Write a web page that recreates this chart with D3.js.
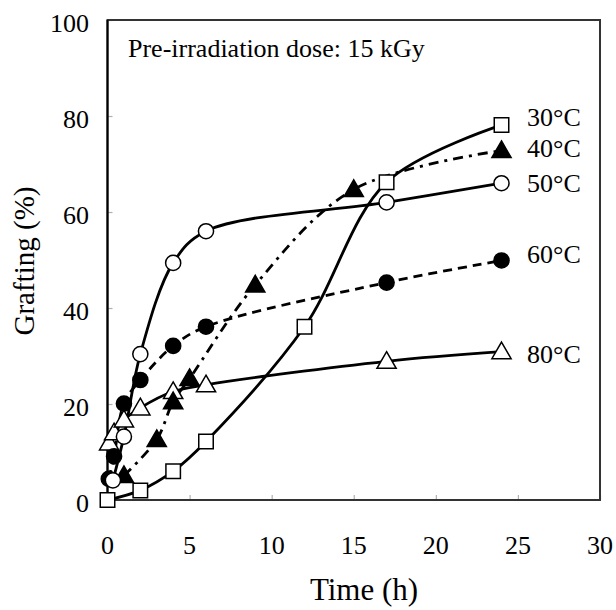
<!DOCTYPE html>
<html>
<head>
<meta charset="utf-8">
<script src="https://cdn.jsdelivr.net/npm/d3@7"></script>
<style>
  html, body { margin: 0; padding: 0; background: #fff; }
  text { font-family: "Liberation Serif", "Times New Roman", serif; fill: #000; }
</style>
</head>
<body>
<div id="chart"></div>
<script>
// ---- data ----
const xTicks = [0, 5, 10, 15, 20, 25, 30];
const yTicks = [0, 20, 40, 60, 80, 100];

const t30 = [0, 2, 4, 6, 12, 17, 24];
const g30 = [0, 2, 6, 12.2, 36.1, 66.2, 78.1];

const t40 = [1, 3, 4, 5, 9, 15, 24];
const g40 = [5.1, 12.6, 20.5, 25.3, 44.8, 64.7, 72.8];

const t50 = [0.33, 1, 2, 4, 6, 17, 24];
const g50 = [4.1, 13.2, 30.4, 49.4, 56, 62, 66];

const t60 = [0.08, 0.4, 1, 2, 4, 6, 17, 24];
const g60 = [4.4, 9.1, 20.1, 25, 32.1, 36.1, 45.3, 49.9];

const t80 = [0.1, 0.4, 1, 2, 4, 6, 17, 24];
const g80 = [11.9, 14, 16.7, 19.2, 22.6, 24, 28.9, 30.9];

const seriesNames = ["30\u00B0C", "40\u00B0C", "50\u00B0C", "60\u00B0C", "80\u00B0C"];
const annotation = "Pre-irradiation dose: 15 kGy";
const xTitle = "Time (h)";
const yTitle = "Grafting (%)";

// ---- build ----
const W = 616, H = 610;
const svg = d3.select("#chart").append("svg")
  .attr("width", W).attr("height", H)
  .style("background", "#fff");

const x = d3.scaleLinear().domain([0, 30]).range([107.5, 600]);
const y = d3.scaleLinear().domain([0, 100]).range([500, 20]);

// ticks (inward, light gray)
const xAxis = d3.axisBottom(x).tickValues(xTicks).tickSize(-5).tickFormat("");
const yAxis = d3.axisLeft(y).tickValues(yTicks).tickSize(-5).tickFormat("");
const gx = svg.append("g").attr("transform", `translate(0,${y(0)})`).call(xAxis);
const gy = svg.append("g").attr("transform", `translate(${x(0)},0)`).call(yAxis);
[gx, gy].forEach(g => {
  g.select(".domain").remove();
  g.selectAll(".tick line").attr("stroke", "#b0b0b0").attr("stroke-width", 1.2);
});

// frame
svg.append("rect")
  .attr("x", x(0)).attr("y", y(100))
  .attr("width", x(30) - x(0)).attr("height", y(0) - y(100))
  .attr("fill", "none").attr("stroke", "#333").attr("stroke-width", 2);
svg.append("line").attr("x1", x(0)).attr("x2", x(0)).attr("y1", y(100)).attr("y2", y(0))
  .attr("stroke", "#000").attr("stroke-width", 2);

// tick labels
svg.append("g").selectAll("text").data(xTicks).join("text")
  .attr("x", d => x(d)).attr("y", 554)
  .attr("text-anchor", "middle").attr("font-size", 26)
  .text(d => d);
svg.append("g").selectAll("text").data(yTicks).join("text")
  .attr("x", 89).attr("y", d => y(d) + 12)
  .attr("text-anchor", "end").attr("font-size", 26)
  .text(d => d);

// axis titles
svg.append("text").attr("x", 364).attr("y", 600)
  .attr("text-anchor", "middle").attr("font-size", 31).text(xTitle);
svg.append("text").attr("transform", "translate(33.5,261) rotate(-90)")
  .attr("text-anchor", "middle").attr("font-size", 29).text(yTitle);

// annotation
svg.append("text").attr("x", 128).attr("y", 56.5).attr("font-size", 26).text(annotation);

// series
const series = [
  { name: seriesNames[0], t: t30, g: g30, marker: "square",   fill: "#fff", dash: null },
  { name: seriesNames[1], t: t40, g: g40, marker: "triangle", fill: "#000", dash: "10,6,3,6" },
  { name: seriesNames[2], t: t50, g: g50, marker: "circle",   fill: "#fff", dash: null },
  { name: seriesNames[3], t: t60, g: g60, marker: "circle",   fill: "#000", dash: "9,6" },
  { name: seriesNames[4], t: t80, g: g80, marker: "triangle", fill: "#fff", dash: null }
];

const line = d3.line()
  .x(d => x(d[0])).y(d => y(d[1]))
  .curve(d3.curveCatmullRom.alpha(0.5));

const gLines = svg.append("g");
series.forEach(s => {
  const pts = s.t.map((t, i) => [t, s.g[i]]);
  gLines.append("path").datum(pts)
    .attr("d", line)
    .attr("fill", "none").attr("stroke", "#000").attr("stroke-width", 2.8)
    .attr("stroke-dasharray", s.dash);
});

const symSize = { square: 210, circle: 180, triangle: 160 };
const symType = { square: d3.symbolSquare, circle: d3.symbolCircle, triangle: d3.symbolTriangle };
const drawOrder = [4, 3, 1, 2, 0];
drawOrder.forEach(k => {
  const s = series[k];
  const pts = s.t.map((t, i) => [t, s.g[i]]);
  const sym = d3.symbol().type(symType[s.marker]).size(symSize[s.marker]);
  svg.append("g").selectAll("path").data(pts).join("path")
    .attr("d", sym)
    .attr("transform", d => `translate(${x(d[0])},${y(d[1]) + (s.marker === "triangle" ? 1.5 : 0)})`)
    .attr("fill", s.fill).attr("stroke", "#000").attr("stroke-width", 1.5);
});

// series labels at right
const labelBaselines = [126, 157, 192, 263, 363];
svg.append("g").selectAll("text").data(series).join("text")
  .attr("x", 527).attr("y", (d, i) => labelBaselines[i])
  .attr("font-size", 26)
  .text(d => d.name);
</script>
</body>
</html>
